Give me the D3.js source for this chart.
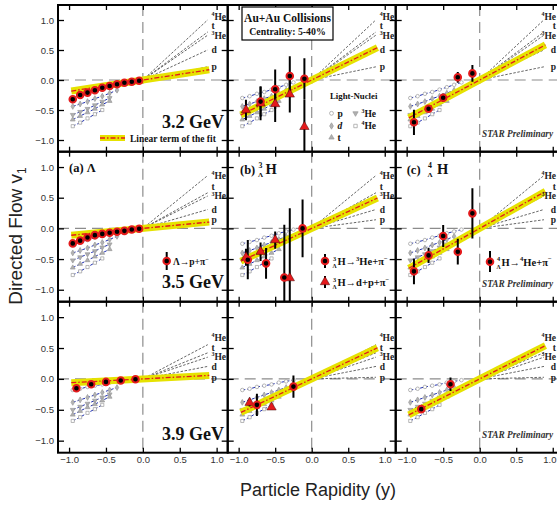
<!DOCTYPE html>
<html>
<head>
<meta charset="utf-8">
<script src="https://cdn.jsdelivr.net/npm/d3@7"></script>
<style>
  body { margin: 0; background: #fff; }
</style>
</head>
<body>
<div class="canvas"></div>
<script>
// ---- data ----
const energies = ['3.2 GeV', '3.5 GeV', '3.9 GeV'];
const rapTicks = [-1, -0.5, 0, 0.5, 1];
const v1Ticks = [-1, -0.5, 0, 0.5, 1];

// Lambda -> p + pi-
const lambdaRap = [
  [-0.95, -0.85, -0.75, -0.65, -0.55, -0.45, -0.35, -0.25, -0.15, -0.05],
  [-0.95, -0.85, -0.75, -0.65, -0.55, -0.45, -0.35, -0.25, -0.15, -0.05],
  [-0.9, -0.7, -0.5, -0.3, -0.1]
];
const lambdaV1 = [
  [-0.32, -0.25, -0.21, -0.17, -0.13, -0.10, -0.07, -0.045, -0.028, -0.012],
  [-0.245, -0.20, -0.148, -0.11, -0.09, -0.072, -0.056, -0.04, -0.017, -0.007],
  [-0.152, -0.087, -0.049, -0.027, -0.005]
];

// 3LH -> 3He + pi-
const h3HeRap = [[-0.7, -0.5, -0.3, -0.1], [-0.875, -0.625, -0.375, -0.125], [-0.75, -0.25]];
const h3HeV1 = [[-0.36, -0.155, 0.067, 0.022], [-0.51, -0.57, -0.80, 0.0], [-0.42, -0.125]];
const h3HeErr = [[0.25, 0.33, 0.33, 0.34], [0.32, 0.25, 0.86, 0.47], [0.18, 0.18]];

// 3LH -> d + p + pi-
const h3dRap = [[-0.9, -0.7, -0.5, -0.3, -0.1], [-0.9, -0.7, -0.5, -0.3], [-0.85, -0.55]];
const h3dV1 = [[-0.5, -0.39, -0.4, -0.24, -0.78], [-0.47, -0.38, -0.19, -0.81], [-0.385, -0.46]];
const h3dErr = [[0.17, 0.28, 0.3, 0.3, 0.46], [0.14, 0.15, 0.14, 1.14], [0.06, 0.03]];

// 4LH -> 4He + pi-
const h4Rap = [[-0.9, -0.7, -0.5, -0.3, -0.1], [-0.9, -0.7, -0.5, -0.3, -0.1], [-0.8, -0.4]];
const h4V1 = [[-0.705, -0.48, -0.295, 0.045, 0.11], [-0.70, -0.44, -0.125, -0.38, 0.245], [-0.49, -0.087]];
const h4Err = [[0.21, 0.06, 0.07, 0.09, 0.14], [0.21, 0.125, 0.18, 0.21, 0.41], [0.05, 0.11]];

// linear term of the fit (dv1/dy)
const lambdaSlope = [0.19, 0.115, 0.063];
const h3Slope = [0.6, 0.55, 0.56];
const h4Slope = [0.65, 0.67, 0.6];

// light nuclei: p, d, 3He, t, 4He
const nuclei = ['p', 'd', '3He', 't', '4He'];
const nucleiSlope = [
  [0.25, 0.57, 0.85, 0.91, 1.14],
  [0.16, 0.35, 0.6, 0.66, 0.98],
  [0.03, 0.23, 0.40, 0.48, 0.63]
];
const nucleiRap = [-0.95, -0.85, -0.75, -0.65, -0.55, -0.45, -0.35, -0.25];
const nuclei32 = [
  [-0.30, -0.27, -0.23, -0.20, -0.16, -0.12, -0.08, -0.04],
  [-0.44, -0.40, -0.36, -0.31, -0.27, -0.22, -0.17],
  [-0.58, -0.53, -0.48, -0.42, -0.36, -0.30],
  [-0.66, -0.60, -0.54, -0.48, -0.41, -0.35],
  [-0.77, -0.71, -0.64, -0.57, -0.50]
];
const nuclei35 = [
  [-0.25, -0.22, -0.19, -0.15, -0.12, -0.08, -0.05, -0.02],
  [-0.40, -0.36, -0.32, -0.27, -0.23, -0.18, -0.13],
  [-0.52, -0.47, -0.42, -0.37, -0.31, -0.26],
  [-0.64, -0.58, -0.52, -0.46, -0.40, -0.34],
  [-0.76, -0.70, -0.63, -0.56, -0.49]
];
const nuclei39 = [
  [-0.18, -0.16, -0.13, -0.11, -0.09, -0.06, -0.04, -0.02],
  [-0.38, -0.34, -0.30, -0.26, -0.22, -0.18, -0.14],
  [-0.50, -0.45, -0.40, -0.35, -0.30, -0.25],
  [-0.58, -0.52, -0.46, -0.41, -0.35, -0.29],
  [-0.68, -0.62, -0.55, -0.49, -0.42]
];
const nucleiV1 = [nuclei32, nuclei35, nuclei39];

// ---- layout ----
const serif = '"Liberation Serif","Times New Roman",serif';
const sans = '"Liberation Sans",Arial,sans-serif';
const colX = [58, 227.7, 395.7];
const colW = [169.7, 168, 168];
const rowY = [5, 151.7, 301.7];
const rowH = [146.7, 150, 151];
const yellow = '#e6e200';
const red = '#e41a1c';

const svg = d3.select('.canvas').append('svg')
    .attr('width', 557)
    .attr('height', 506);

svg.append('rect')
    .attr('width', 557)
    .attr('height', 506)
    .attr('fill', 'white');

// text with super / subscripts
function rich(parent, x, yb, parts, size, opts = {}) {
  const t = parent.append('text')
      .attr('x', x).attr('y', yb)
      .attr('font-family', opts.family || serif)
      .attr('font-weight', opts.weight || 'bold')
      .attr('font-style', opts.style || 'normal')
      .attr('font-size', size)
      .attr('fill', opts.fill || '#111');
  if (opts.anchor) t.attr('text-anchor', opts.anchor);
  let shift = 0;
  parts.forEach(([s, k]) => {
    const target = k === 'sup' ? -0.42 * size : k === 'sub' ? 0.28 * size : 0;
    t.append('tspan')
        .attr('dy', target - shift)
        .attr('font-size', k ? size * 0.62 : size)
        .text(s);
    shift = target;
  });
  return t;
}

// stacked mass number over Lambda, e.g. 3/Lambda H
function hyperPrefix(parent, x, yb, mass, size) {
  parent.append('text').attr('x', x).attr('y', yb - 0.42 * size)
      .attr('font-family', serif).attr('font-weight', 'bold')
      .attr('font-size', size * 0.6).attr('fill', '#111').text(mass);
  parent.append('text').attr('x', x - 0.5).attr('y', yb + 0.3 * size)
      .attr('font-family', serif).attr('font-weight', 'bold')
      .attr('font-size', size * 0.55).attr('fill', '#111').text('Λ');
  return x + size * 0.42;
}

const shapes = [d3.symbolCircle, d3.symbolDiamond, d3.symbolTriangle, d3.symbolTriangle, d3.symbolSquare];
const shapeRot = [0, 0, 180, 0, 0];
const shapeFill = ['white', '#b4b4b4', '#b0b0b0', '#b0b0b0', 'white'];

function nucleusMarker(parent, i, px, py, size) {
  parent.append('path')
      .attr('d', d3.symbol().type(shapes[i]).size(size)())
      .attr('transform', `translate(${px},${py}) rotate(${shapeRot[i]})`)
      .attr('fill', shapeFill[i])
      .attr('stroke', '#999')
      .attr('stroke-width', 0.7);
}

function circleMarker(parent, px, py) {
  parent.append('circle')
      .attr('cx', px).attr('cy', py).attr('r', 3.3)
      .attr('fill', 'black')
      .attr('stroke', red)
      .attr('stroke-width', 2);
}

function triangleMarker(parent, px, py) {
  parent.append('path')
      .attr('d', d3.symbol().type(d3.symbolTriangle).size(38)())
      .attr('transform', `translate(${px},${py})`)
      .attr('fill', red)
      .attr('stroke', '#400')
      .attr('stroke-width', 0.5);
}

// ---- panels ----
for (let r = 0; r < 3; r++) {
  for (let c = 0; c < 3; c++) {
    const x = d3.scaleLinear().domain([-1.15, 1.15]).range([colX[c], colX[c] + colW[c]]);
    const y = d3.scaleLinear().domain([-1.195, 1.25]).range([rowY[r] + rowH[r], rowY[r]]);

    const id = `clip${r}${c}`;
    svg.append('clipPath').attr('id', id)
      .append('rect')
        .attr('x', colX[c]).attr('y', rowY[r])
        .attr('width', colW[c]).attr('height', rowH[r]);
    const g = svg.append('g').attr('clip-path', `url(#${id})`);

    // zero lines
    g.append('line')
        .attr('x1', colX[c]).attr('x2', colX[c] + colW[c])
        .attr('y1', y(0)).attr('y2', y(0))
        .attr('stroke', '#8c8c8c').attr('stroke-width', 1.2)
        .attr('stroke-dasharray', '11,6');
    g.append('line')
        .attr('x1', x(0)).attr('x2', x(0))
        .attr('y1', rowY[r]).attr('y2', rowY[r] + rowH[r])
        .attr('stroke', '#8c8c8c').attr('stroke-width', 1.2)
        .attr('stroke-dasharray', '11,6');

    // light-nuclei fits at positive rapidity
    nucleiSlope[r].forEach(s => {
      g.append('line')
          .attr('x1', x(0.02)).attr('y1', y(0.02 * s))
          .attr('x2', x(0.88)).attr('y2', y(0.88 * s))
          .attr('stroke', '#555').attr('stroke-width', 0.9)
          .attr('stroke-dasharray', '2.5,1.6');
    });

    // light-nuclei labels, spread so they don't overlap
    const labY = nucleiSlope[r].map(s => y(0.88 * s));
    for (let i = 1; i < labY.length; i++) {
      labY[i] = Math.min(labY[i], labY[i - 1] - 9.5);
    }
    const labParts = [[['p', '']], [['d', '']], [['3', 'sup'], ['He', '']], [['t', '']], [['4', 'sup'], ['He', '']]];
    labParts.forEach((parts, i) => {
      if (c === 2) {
        // last column: keep the labels inside the picture
        rich(svg, 556, labY[i] + 3.5, parts, 9.5, {fill: '#222', anchor: 'end'});
      } else {
        rich(svg, x(0.93), labY[i] + 3.5, parts, 9.5, {fill: '#222'});
      }
    });

    // light-nuclei measured points (negative rapidity)
    nucleiV1[r].forEach((vals, i) => {
      const pts = vals.map((v, k) => [nucleiRap[k], v]);
      g.append('path')
          .attr('d', d3.line().x(d => x(d[0])).y(d => y(d[1]))(pts))
          .attr('fill', 'none')
          .attr('stroke', '#1f2fb0').attr('stroke-width', 1)
          .attr('stroke-dasharray', '3,2');
      pts.forEach(d => nucleusMarker(g, i, x(d[0]), y(d[1]), 10));
    });

    // linear term of the fit
    const slope = [lambdaSlope, h3Slope, h4Slope][c][r];
    g.append('line')
        .attr('x1', x(-0.97)).attr('y1', y(-0.97 * slope))
        .attr('x2', x(0.9)).attr('y2', y(0.9 * slope))
        .attr('stroke', yellow).attr('stroke-width', 7);
    g.append('line')
        .attr('x1', x(-0.97)).attr('y1', y(-0.97 * slope))
        .attr('x2', x(0.9)).attr('y2', y(0.9 * slope))
        .attr('stroke', red).attr('stroke-width', 1.3)
        .attr('stroke-dasharray', '5,2,1.5,2');

    // hypernuclei / lambda points
    const errBar = (xv, v, e) => {
      g.append('line')
          .attr('x1', x(xv)).attr('x2', x(xv))
          .attr('y1', y(v + e)).attr('y2', y(v - e))
          .attr('stroke', 'black').attr('stroke-width', 2);
    };
    if (c === 0) {
      lambdaRap[r].forEach((xv, k) => circleMarker(g, x(xv), y(lambdaV1[r][k])));
    } else if (c === 1) {
      h3dRap[r].forEach((xv, k) => errBar(xv, h3dV1[r][k], h3dErr[r][k]));
      h3HeRap[r].forEach((xv, k) => errBar(xv, h3HeV1[r][k], h3HeErr[r][k]));
      h3dRap[r].forEach((xv, k) => triangleMarker(g, x(xv), y(h3dV1[r][k])));
      h3HeRap[r].forEach((xv, k) => circleMarker(g, x(xv), y(h3HeV1[r][k])));
    } else {
      h4Rap[r].forEach((xv, k) => errBar(xv, h4V1[r][k], h4Err[r][k]));
      h4Rap[r].forEach((xv, k) => circleMarker(g, x(xv), y(h4V1[r][k])));
    }

    // axes with inward ticks
    const styleAxis = a => {
      a.select('.domain').remove();
      a.selectAll('.tick line').attr('stroke', 'black').attr('stroke-width', 1.3);
      a.selectAll('.tick text')
          .attr('font-family', sans).attr('font-size', 9.5).attr('fill', '#333');
    };
    const none = () => '';
    svg.append('g')
        .attr('transform', `translate(${colX[c]},0)`)
        .call(d3.axisLeft(y).tickValues(v1Ticks).tickSize(-6).tickPadding(4)
            .tickFormat(c === 0 ? d3.format('.1f') : none))
        .call(styleAxis);
    svg.append('g')
        .attr('transform', `translate(${colX[c] + colW[c]},0)`)
        .call(d3.axisRight(y).tickValues(v1Ticks).tickSize(-6).tickFormat(none))
        .call(styleAxis);
    const bottom = svg.append('g')
        .attr('transform', `translate(0,${rowY[r] + rowH[r]})`)
        .call(d3.axisBottom(x).tickValues(rapTicks).tickSize(-5).tickPadding(4)
            .tickFormat(r === 2 ? d3.format('.1f') : none))
        .call(styleAxis);
    if (r === 2 && c === 2) {
      // the last label sits on the picture edge: pull it inside
      bottom.selectAll('.tick text')
          .filter(d => d === 1)
          .attr('text-anchor', 'end')
          .attr('x', 556 - x(1));
    }
    svg.append('g')
        .attr('transform', `translate(0,${rowY[r]})`)
        .call(d3.axisTop(x).tickValues(rapTicks).tickSize(-5).tickFormat(none))
        .call(styleAxis);

    // frame
    svg.append('rect')
        .attr('x', colX[c]).attr('y', rowY[r])
        .attr('width', colW[c]).attr('height', rowH[r])
        .attr('fill', 'none')
        .attr('stroke', 'black').attr('stroke-width', 2);
  }
}

// ---- annotations ----
// energy labels
const energyBase = [128, 287.7, 440];
energies.forEach((e, r) => {
  svg.append('text')
      .attr('x', 162).attr('y', energyBase[r])
      .attr('font-family', serif).attr('font-weight', 'bold')
      .attr('font-size', 18).attr('fill', '#111')
      .text(e);
});

// STAR Preliminary
[137, 287, 438].forEach(yb => {
  svg.append('text')
      .attr('x', 482).attr('y', yb)
      .attr('font-family', serif).attr('font-weight', 'bold').attr('font-style', 'italic')
      .attr('font-size', 9.3).attr('fill', '#333')
      .text('STAR Preliminary');
});

// linear term legend
svg.append('line')
    .attr('x1', 100).attr('x2', 125).attr('y1', 138).attr('y2', 138)
    .attr('stroke', yellow).attr('stroke-width', 6);
svg.append('line')
    .attr('x1', 100).attr('x2', 125).attr('y1', 138).attr('y2', 138)
    .attr('stroke', red).attr('stroke-width', 1.3)
    .attr('stroke-dasharray', '5,2,1.5,2');
svg.append('text')
    .attr('x', 130).attr('y', 141.5)
    .attr('font-family', serif).attr('font-weight', 'bold')
    .attr('font-size', 9.5).attr('fill', '#111')
    .text('Linear term of the fit');

// Au+Au box
svg.append('rect')
    .attr('x', 242).attr('y', 7).attr('width', 91).attr('height', 33)
    .attr('fill', 'white').attr('stroke', 'black').attr('stroke-width', 1.2);
svg.append('text')
    .attr('x', 287.5).attr('y', 22).attr('text-anchor', 'middle')
    .attr('font-family', serif).attr('font-weight', 'bold')
    .attr('font-size', 11.5).attr('fill', '#111')
    .text('Au+Au Collisions');
svg.append('text')
    .attr('x', 287.5).attr('y', 35).attr('text-anchor', 'middle')
    .attr('font-family', serif).attr('font-weight', 'bold')
    .attr('font-size', 9.8).attr('fill', '#111')
    .text('Centrality: 5-40%');

// light-nuclei legend
svg.append('text')
    .attr('x', 330).attr('y', 99)
    .attr('font-family', serif).attr('font-weight', 'bold')
    .attr('font-size', 8.8).attr('fill', '#111')
    .text('Light-Nuclei');
const legPos = [[331.5, 113.3], [331.5, 126], [355.5, 113.3], [331.5, 137.5], [355.5, 126]];
const legText = [[['p', '']], [['d', '']], [['3', 'sup'], ['He', '']], [['t', '']], [['4', 'sup'], ['He', '']]];
legPos.forEach(([lx, ly], i) => {
  nucleusMarker(svg, i, lx, ly, 12);
  rich(svg, lx + 6, ly + 3.3, legText[i], 9.5, {style: i === 1 ? 'italic' : 'normal'});
});

// panel titles
svg.append('text')
    .attr('x', 69).attr('y', 172)
    .attr('font-family', serif).attr('font-weight', 'bold')
    .attr('font-size', 12.5).attr('fill', '#111')
    .text('(a) Λ');
svg.append('text')
    .attr('x', 240).attr('y', 173.5)
    .attr('font-family', serif).attr('font-weight', 'bold')
    .attr('font-size', 12.5).attr('fill', '#111')
    .text('(b)');
let hx = hyperPrefix(svg, 258.5, 173.5, '3', 13);
svg.append('text')
    .attr('x', hx + 1.5).attr('y', 174)
    .attr('font-family', serif).attr('font-weight', 'bold')
    .attr('font-size', 14.5).attr('fill', '#111')
    .text('H');
svg.append('text')
    .attr('x', 406.7).attr('y', 173.5)
    .attr('font-family', serif).attr('font-weight', 'bold')
    .attr('font-size', 12.5).attr('fill', '#111')
    .text('(c)');
hx = hyperPrefix(svg, 428, 173.5, '4', 13);
svg.append('text')
    .attr('x', hx + 3.5).attr('y', 174)
    .attr('font-family', serif).attr('font-weight', 'bold')
    .attr('font-size', 14.5).attr('fill', '#111')
    .text('H');

// decay channel legends
const legBar = (lx, y1, y2) => svg.append('line')
    .attr('x1', lx).attr('x2', lx).attr('y1', y1).attr('y2', y2)
    .attr('stroke', 'black').attr('stroke-width', 2);

legBar(166.7, 252, 270);
circleMarker(svg, 166.7, 261);
rich(svg, 173, 264.5, [['Λ→p+π', ''], ['−', 'sup']], 9.5);

legBar(325, 254, 268);
circleMarker(svg, 325, 261);
hx = hyperPrefix(svg, 333, 265, '3', 10.5);
rich(svg, hx, 265, [['H→', ''], ['3', 'sup'], ['He+π', ''], ['−', 'sup']], 10.5);

legBar(325, 276, 288);
triangleMarker(svg, 325, 282);
hx = hyperPrefix(svg, 333, 286, '3', 10.5);
rich(svg, hx, 286, [['H→d+p+π', ''], ['−', 'sup']], 10.5);

legBar(490, 251, 272);
circleMarker(svg, 490, 261.7);
hx = hyperPrefix(svg, 497, 265.5, '4', 10.5);
rich(svg, hx, 265.5, [['H→', ''], ['4', 'sup'], ['He+π', ''], ['−', 'sup']], 10.5);

// axis titles
svg.append('text')
    .attr('transform', 'translate(22,236) rotate(-90)')
    .attr('text-anchor', 'middle')
    .attr('font-family', sans).attr('font-size', 19).attr('fill', '#222')
    .text('Directed Flow v')
  .append('tspan')
    .attr('dy', 4).attr('font-size', 12)
    .text('1');
svg.append('text')
    .attr('x', 318).attr('y', 496)
    .attr('text-anchor', 'middle')
    .attr('font-family', sans).attr('font-size', 18).attr('fill', '#222')
    .text('Particle Rapidity (y)');
</script>
</body>
</html>
